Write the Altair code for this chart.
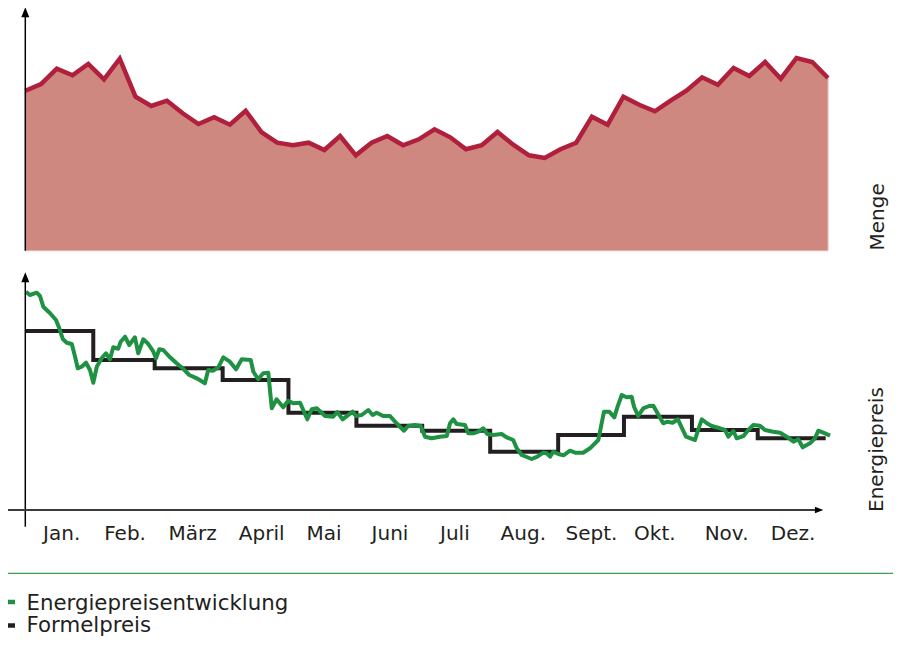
import altair as alt
import pandas as pd

# ---------------- data ----------------
# top panel: weekly quantity ("Menge")
menge_woche = list(range(52))
menge_wert = [160, 166.7, 182, 175.4, 186.7, 171.4, 192, 154, 144.7, 150, 137.4, 126.7, 133.4,
              126, 140, 118.7, 108, 105.4, 108, 100.7, 114.7, 95.4, 108, 114.7, 105.4, 111.4,
              121.4, 113.4, 101.4, 105.4, 118.7, 106, 95.4, 92.7, 101.4, 108, 134, 126, 154,
              146, 139.4, 150, 160, 173.4, 166, 182.7, 174.7, 188.7, 172, 192.7, 188.7, 172.7]

# bottom panel: energy price development (day of year, value)
preis_tag = [0.3, 2.1, 5.2, 6.7, 8.2, 11.3, 14.0, 15.5, 17.1, 18.9,
             21.2, 22.7, 23.9, 25.7, 27.7, 29.5, 31.0, 32.6, 34.8, 36.8,
             38.6, 40.1, 42.4, 43.5, 45.5, 47.4, 50.0, 51.5, 53.8, 56.1,
             58.4, 59.6, 61.1, 62.9, 66.0, 69.0, 71.8, 74.8, 78.2, 81.9,
             83.4, 85.7, 88.0, 90.3, 93.3, 96.1, 98.7, 102.8, 104.0, 106.2,
             108.5, 110.8, 112.4, 114.6, 117.6, 119.9, 122.2, 125.3, 127.1, 128.6,
             130.6, 132.9, 136.7, 140.4, 142.3, 144.7, 149.3, 150.8, 153.4, 156.4,
             158.4, 160.2, 163.2, 166.3, 168.6, 170.5, 172.7, 174.6, 177.7, 180.3,
             182.3, 185.3, 189.1, 192.2, 193.7, 195.2, 196.7, 200.5, 202.0, 204.3,
             206.6, 208.8, 210.7, 213.4, 217.2, 219.5, 222.5, 224.1, 226.4, 230.9,
             233.5, 236.2, 237.8, 239.3, 240.8, 243.1, 245.4, 248.4, 250.7, 254.4,
             257.5, 261.3, 263.9, 266.3, 268.6, 270.1, 272.0, 274.2, 276.5, 277.6,
             279.5, 281.8, 284.5, 286.4, 288.2, 290.9, 292.8, 295.2, 297.6, 299.3,
             301.3, 305.4, 306.9, 308.5, 310.8, 313.0, 316.8, 319.1, 320.6, 322.9,
             324.4, 327.5, 329.7, 332.0, 335.0, 337.3, 341.1, 344.2, 347.2, 350.3,
             352.5, 354.5, 357.8, 360.1, 361.6, 363.9, 367.0]
preis_wert = [218.3, 215, 217.3, 214, 203.3, 196.7, 190, 181.7, 171, 167.3,
              166, 153.3, 141.7, 143.3, 147.3, 140, 127.3, 143.3, 151.7, 156.7,
              150.7, 162.7, 161.3, 168.3, 173.3, 165, 172.7, 156.7, 170.7, 166,
              158.3, 151.7, 160.7, 160, 152.7, 146.7, 141.7, 135, 131.7, 126.7,
              140, 139.3, 142.7, 152.7, 148.3, 140.7, 150.7, 150, 138.3, 130.7,
              136.7, 137.3, 101.7, 110.7, 102.7, 109.3, 106.7, 107.3, 98.3, 90.7,
              100.7, 101.7, 94, 93.3, 98, 90.7, 98.3, 94, 95, 100,
              95, 97.3, 94, 94, 88.3, 84, 79.3, 84, 85, 84,
              73.3, 71.7, 73.3, 74, 86.7, 90.7, 86, 85, 76.7, 76.7,
              78.3, 81.7, 76, 75, 76, 72.7, 70, 61.7, 55, 51,
              53.3, 57.3, 56.7, 53.3, 58.3, 56, 54.7, 59.3, 57.3, 57.3,
              61.7, 70, 98.3, 98.3, 92.7, 103.3, 115, 112.7, 113.3, 103.3,
              94, 101.7, 104, 104.3, 97.3, 86.7, 88.3, 87.3, 90.7, 82.7,
              73.3, 70, 80.7, 90.7, 86.7, 84, 81.7, 80, 73.3, 79,
              71.7, 74, 80, 85, 84.3, 80, 78.3, 77.3, 73.3, 68.3,
              70.7, 62.7, 66.7, 71.7, 79.3, 77.3, 74.3]

# formula price: monthly steps (month start day, value)
formel_tag = [0, 31, 59, 90, 120, 151, 181, 212, 243, 273, 304, 334, 365]
formel_wert = [179, 150, 141.7, 130, 97.3, 84.3, 79.3, 58.3, 75, 93.3, 80, 71.7, 71.7]

monate = ["Jan.", "Feb.", "März", "April", "Mai", "Juni", "Juli", "Aug.",
          "Sept.", "Okt.", "Nov.", "Dez."]
monat_tag = [16.6, 45.5, 76.3, 107.8, 136.2, 166.3, 195.9, 227.1, 258.2, 287.1, 319.8, 350.1]

serien = ["Energiepreisentwicklung", "Formelpreis"]

# ---------------- styling ----------------
FONT = "DejaVu Sans"
TXT = "#231f20"
RED = "#b01f3b"
FILL = "#cf8880"
GREEN = "#1e9142"
BLACK = "#231f20"
FS = 20
FS_LEG = 21.3

top_df = pd.DataFrame({"woche": menge_woche, "menge": menge_wert})
preis_df = pd.DataFrame({"tag": preis_tag, "preis": preis_wert})
formel_df = pd.DataFrame({"tag": formel_tag, "preis": formel_wert})
monat_df = pd.DataFrame({"tag": monat_tag, "monat": monate})
one = pd.DataFrame({"a": [0]})

xw = alt.Scale(domain=[0, 51], range=[17.3, 820], nice=False, zero=False)
xd = alt.Scale(domain=[0, 365], range=[17.3, 817.7], nice=False, zero=False)
ytop = alt.Scale(domain=[0, 240], range=[242.7, 2.7], nice=False, zero=False)
ybot = alt.Scale(domain=[0, 238], range=[502, 264], nice=False, zero=False)

area = alt.Chart(top_df).mark_area(color=FILL, stroke="#e7b3ab", strokeWidth=1).encode(
    x=alt.X("woche:Q", scale=xw, axis=None),
    y=alt.Y("menge:Q", scale=ytop, axis=None),
)
red_line = alt.Chart(top_df).mark_line(color=RED, strokeWidth=4.5).encode(
    x=alt.X("woche:Q", scale=xw, axis=None),
    y=alt.Y("menge:Q", scale=ytop, axis=None),
)
step = alt.Chart(formel_df).mark_line(
    color=BLACK, strokeWidth=4, interpolate="step-after", strokeJoin="miter"
).encode(
    x=alt.X("tag:Q", scale=xd, axis=None),
    y=alt.Y("preis:Q", scale=ybot, axis=None),
)
green_line = alt.Chart(preis_df).mark_line(
    color=GREEN, strokeWidth=4, strokeJoin="round"
).encode(
    x=alt.X("tag:Q", scale=xd, axis=None),
    y=alt.Y("preis:Q", scale=ybot, axis=None),
)

# axis decorations
top_yaxis = alt.Chart(one).mark_rule(color="black", strokeWidth=1.5).encode(
    x=alt.value(17.3), y=alt.value(8), y2=alt.value(242.7))
top_arrow = alt.Chart(one).mark_point(
    shape="M0,-1L0.8,1L-0.8,1Z", filled=True, color="black", opacity=1, size=100
).encode(x=alt.value(17.3), y=alt.value(4.3))
bot_yaxis = alt.Chart(one).mark_rule(color="black", strokeWidth=1.5).encode(
    x=alt.value(17.3), y=alt.value(272), y2=alt.value(518.7))
bot_arrow = alt.Chart(one).mark_point(
    shape="M0,-1L0.8,1L-0.8,1Z", filled=True, color="black", opacity=1, size=100
).encode(x=alt.value(17.3), y=alt.value(269.3))
xaxis = alt.Chart(one).mark_rule(color="#3a3a3a", strokeWidth=1.8).encode(
    x=alt.value(0), x2=alt.value(811), y=alt.value(502))
x_arrow = alt.Chart(one).mark_point(
    shape="M1,0L-1,-0.8L-1,0.8Z", filled=True, color="black", opacity=1, size=70
).encode(x=alt.value(811.1), y=alt.value(502))

labels = alt.Chart(monat_df).mark_text(
    font=FONT, fontSize=FS, color=TXT, align="center", baseline="alphabetic"
).encode(
    x=alt.X("tag:Q", scale=xd, axis=None),
    y=alt.value(532),
    text="monat:N",
)

title_menge = alt.Chart(one).mark_text(
    font=FONT, fontSize=FS, color=TXT, angle=270, align="left", baseline="alphabetic"
).encode(x=alt.value(876), y=alt.value(242.5), text=alt.value("Menge"))
title_preis = alt.Chart(one).mark_text(
    font=FONT, fontSize=FS, color=TXT, angle=270, align="left", baseline="alphabetic"
).encode(x=alt.value(875), y=alt.value(504), text=alt.value("Energiepreis"))

# legend
separator = alt.Chart(one).mark_rule(color="#3d9b52", strokeWidth=1.2).encode(
    x=alt.value(0), x2=alt.value(885), y=alt.value(565.3))
leg_green = alt.Chart(one).mark_rule(color=GREEN, strokeWidth=4.5).encode(
    x=alt.value(0), x2=alt.value(7), y=alt.value(594))
leg_black = alt.Chart(one).mark_rule(color=BLACK, strokeWidth=4.5).encode(
    x=alt.value(0), x2=alt.value(7), y=alt.value(617.5))
leg_t1 = alt.Chart(one).mark_text(
    font=FONT, fontSize=FS_LEG, color=TXT, align="left", baseline="alphabetic"
).encode(x=alt.value(18.5), y=alt.value(601.5), text=alt.value(serien[0]))
leg_t2 = alt.Chart(one).mark_text(
    font=FONT, fontSize=FS_LEG, color=TXT, align="left", baseline="alphabetic"
).encode(x=alt.value(18.5), y=alt.value(624.3), text=alt.value(serien[1]))

chart = alt.layer(
    area, red_line, top_yaxis, top_arrow,
    step, green_line, bot_yaxis, bot_arrow, xaxis, x_arrow, labels,
    title_menge, title_preis,
    separator, leg_green, leg_black, leg_t1, leg_t2,
).resolve_scale(x="independent", y="independent").properties(
    width=885, height=629, padding=0,
    autosize=alt.AutoSizeParams(type="none"),
).configure_view(strokeWidth=0)

chart.save("out.html", embed_options={"renderer": "svg", "actions": False})
